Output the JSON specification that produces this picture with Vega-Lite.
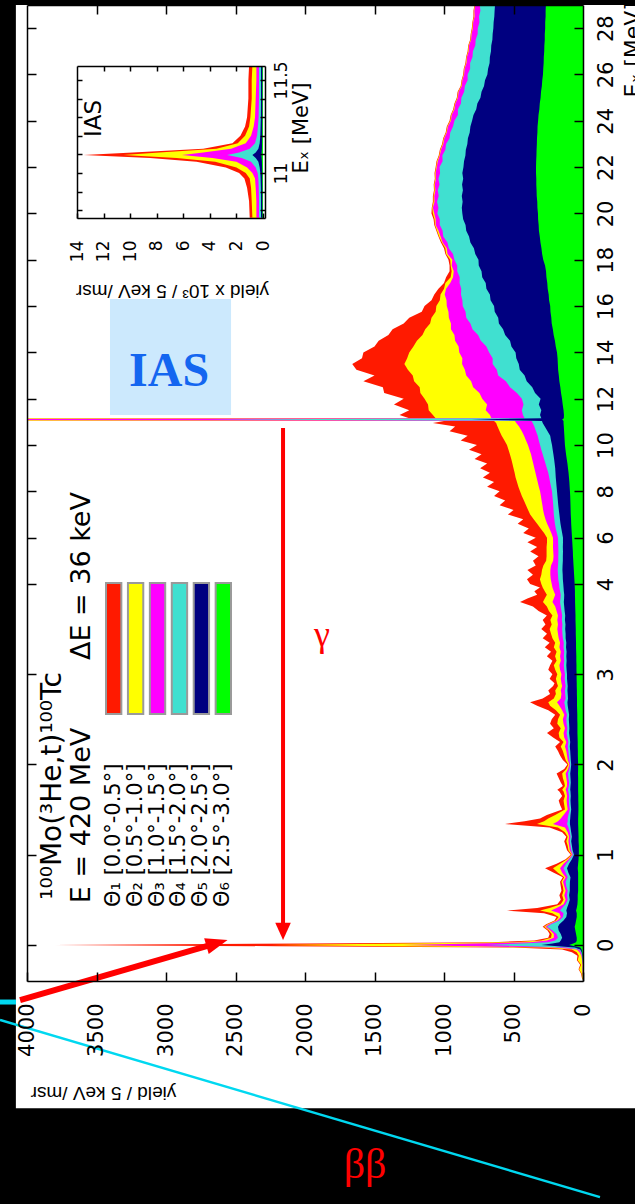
{
"$schema":"https://vega.github.io/schema/vega-lite/v6.json",
"width":556,"height":976,
"autosize":{"type":"none"},
"padding":{"left":27,"top":5,"right":52,"bottom":223},
"background":"#000000",
"config":{"view":{"stroke":null},"font":"Liberation Sans","axis":{"zindex":2,"grid":false,"domainColor":"#000000","tickColor":"#000000","labelColor":"#000000","titleColor":"#000000","domainWidth":1.5,"tickWidth":1.5,"labelFlush":false,"labelOverlap":false,"labelBound":false,"titleFontWeight":"normal"}},
"datasets":{
"main":[
{"e":-0.38,"g":0,"b":0,"c":0,"m":0,"y":4,"r":6},
{"e":-0.32,"g":0,"b":0,"c":0,"m":2,"y":10,"r":14},
{"e":-0.27,"g":0,"b":0,"c":2,"m":5,"y":28,"r":32},
{"e":-0.22,"g":0,"b":0,"c":0,"m":3,"y":14,"r":20},
{"e":-0.17,"g":0,"b":2,"c":3,"m":6,"y":38,"r":44},
{"e":-0.12,"g":2,"b":5,"c":8,"m":12,"y":30,"r":40},
{"e":-0.08,"g":5,"b":10,"c":15,"m":25,"y":45,"r":80},
{"e":-0.05,"g":10,"b":20,"c":30,"m":45,"y":80,"r":150},
{"e":-0.03,"g":20,"b":60,"c":120,"m":200,"y":300,"r":500},
{"e":-0.015,"g":60,"b":180,"c":420,"m":800,"y":1400,"r":2200},
{"e":0,"g":100,"b":300,"c":700,"m":1300,"y":2250,"r":3800},
{"e":0.015,"g":70,"b":220,"c":450,"m":800,"y":1300,"r":2000},
{"e":0.03,"g":50,"b":170,"c":250,"m":380,"y":500,"r":650},
{"e":0.05,"g":45,"b":160,"c":200,"m":260,"y":300,"r":350},
{"e":0.08,"g":45,"b":150,"c":180,"m":210,"y":230,"r":250},
{"e":0.12,"g":50,"b":160,"c":190,"m":210,"y":225,"r":240},
{"e":0.16,"g":55,"b":175,"c":220,"m":235,"y":245,"r":255},
{"e":0.2,"g":60,"b":180,"c":259,"m":270,"y":280,"r":290},
{"e":0.23,"g":55,"b":170,"c":230,"m":245,"y":255,"r":265},
{"e":0.27,"g":50,"b":140,"c":170,"m":185,"y":195,"r":205},
{"e":0.31,"g":45,"b":120,"c":145,"m":160,"y":175,"r":190},
{"e":0.35,"g":45,"b":115,"c":140,"m":170,"y":220,"r":280},
{"e":0.38,"g":50,"b":120,"c":165,"m":230,"y":309,"r":547},
{"e":0.41,"g":45,"b":115,"c":150,"m":190,"y":240,"r":330},
{"e":0.45,"g":40,"b":105,"c":125,"m":140,"y":160,"r":185},
{"e":0.5,"g":38,"b":95,"c":110,"m":125,"y":140,"r":160},
{"e":0.55,"g":38,"b":100,"c":115,"m":135,"y":150,"r":170},
{"e":0.6,"g":35,"b":95,"c":110,"m":125,"y":140,"r":155},
{"e":0.65,"g":35,"b":95,"c":120,"m":135,"y":145,"r":160},
{"e":0.7,"g":35,"b":94,"c":125,"m":144,"y":155,"r":165},
{"e":0.75,"g":35,"b":90,"c":110,"m":125,"y":135,"r":145},
{"e":0.8,"g":35,"b":105,"c":125,"m":150,"y":180,"r":210},
{"e":0.85,"g":38,"b":115,"c":140,"m":165,"y":216,"r":273},
{"e":0.9,"g":35,"b":100,"c":120,"m":140,"y":165,"r":190},
{"e":0.95,"g":32,"b":80,"c":95,"m":105,"y":115,"r":125},
{"e":1.0,"g":30,"b":65,"c":72,"m":78,"y":82,"r":88},
{"e":1.05,"g":30,"b":75,"c":85,"m":95,"y":105,"r":115},
{"e":1.1,"g":30,"b":80,"c":90,"m":100,"y":110,"r":125},
{"e":1.15,"g":32,"b":85,"c":95,"m":105,"y":120,"r":135},
{"e":1.2,"g":32,"b":80,"c":90,"m":100,"y":110,"r":120},
{"e":1.25,"g":33,"b":85,"c":95,"m":110,"y":130,"r":150},
{"e":1.3,"g":34,"b":90,"c":105,"m":130,"y":180,"r":240},
{"e":1.34,"g":35,"b":94,"c":115,"m":216,"y":331,"r":561},
{"e":1.37,"g":35,"b":94,"c":110,"m":180,"y":280,"r":420},
{"e":1.4,"g":35,"b":92,"c":110,"m":160,"y":250,"r":309},
{"e":1.44,"g":34,"b":90,"c":105,"m":140,"y":200,"r":260},
{"e":1.5,"g":33,"b":85,"c":95,"m":110,"y":130,"r":150},
{"e":1.55,"g":33,"b":88,"c":100,"m":115,"y":135,"r":165},
{"e":1.6,"g":34,"b":90,"c":102,"m":118,"y":140,"r":175},
{"e":1.65,"g":34,"b":88,"c":100,"m":115,"y":130,"r":150},
{"e":1.7,"g":35,"b":90,"c":105,"m":120,"y":140,"r":170},
{"e":1.72,"g":35,"b":92,"c":108,"m":125,"y":150,"r":185},
{"e":1.76,"g":35,"b":90,"c":102,"m":115,"y":130,"r":145},
{"e":1.8,"g":35,"b":88,"c":100,"m":115,"y":135,"r":160},
{"e":1.85,"g":35,"b":90,"c":105,"m":120,"y":145,"r":175},
{"e":1.9,"g":36,"b":92,"c":108,"m":125,"y":150,"r":190},
{"e":1.95,"g":35,"b":88,"c":98,"m":108,"y":120,"r":135},
{"e":2.0,"g":35,"b":85,"c":92,"m":98,"y":105,"r":112},
{"e":2.05,"g":36,"b":88,"c":98,"m":110,"y":125,"r":145},
{"e":2.1,"g":37,"b":90,"c":102,"m":115,"y":135,"r":165},
{"e":2.15,"g":37,"b":92,"c":105,"m":120,"y":145,"r":180},
{"e":2.2,"g":38,"b":95,"c":110,"m":130,"y":160,"r":200},
{"e":2.25,"g":38,"b":92,"c":105,"m":120,"y":140,"r":165},
{"e":2.3,"g":39,"b":96,"c":112,"m":135,"y":170,"r":215},
{"e":2.35,"g":40,"b":100,"c":118,"m":140,"y":175,"r":259},
{"e":2.4,"g":40,"b":98,"c":112,"m":130,"y":160,"r":210},
{"e":2.45,"g":40,"b":100,"c":118,"m":140,"y":185,"r":237},
{"e":2.5,"g":41,"b":102,"c":120,"m":145,"y":180,"r":225},
{"e":2.55,"g":41,"b":100,"c":115,"m":135,"y":165,"r":200},
{"e":2.6,"g":42,"b":105,"c":125,"m":150,"y":195,"r":250},
{"e":2.65,"g":43,"b":110,"c":130,"m":170,"y":237,"r":330},
{"e":2.69,"g":43,"b":112,"c":135,"m":187,"y":250,"r":381},
{"e":2.73,"g":43,"b":108,"c":125,"m":160,"y":210,"r":290},
{"e":2.78,"g":44,"b":110,"c":128,"m":155,"y":195,"r":237},
{"e":2.82,"g":44,"b":112,"c":130,"m":160,"y":200,"r":250},
{"e":2.87,"g":45,"b":110,"c":125,"m":150,"y":180,"r":215},
{"e":2.9,"g":45,"b":112,"c":128,"m":155,"y":187,"r":205},
{"e":2.95,"g":46,"b":115,"c":132,"m":160,"y":195,"r":240},
{"e":3.0,"g":46,"b":115,"c":130,"m":155,"y":185,"r":220},
{"e":3.05,"g":47,"b":118,"c":135,"m":165,"y":200,"r":250},
{"e":3.1,"g":47,"b":120,"c":138,"m":170,"y":210,"r":237},
{"e":3.15,"g":48,"b":118,"c":135,"m":160,"y":190,"r":220},
{"e":3.2,"g":48,"b":120,"c":138,"m":165,"y":201,"r":260},
{"e":3.25,"g":49,"b":118,"c":135,"m":160,"y":190,"r":230},
{"e":3.3,"g":50,"b":122,"c":140,"m":170,"y":210,"r":275},
{"e":3.35,"g":50,"b":120,"c":138,"m":165,"y":200,"r":240},
{"e":3.4,"g":51,"b":125,"c":145,"m":175,"y":220,"r":290},
{"e":3.45,"g":52,"b":125,"c":148,"m":180,"y":230,"r":259},
{"e":3.5,"g":52,"b":128,"c":150,"m":185,"y":240,"r":300},
{"e":3.55,"g":53,"b":126,"c":148,"m":180,"y":225,"r":270},
{"e":3.6,"g":54,"b":130,"c":152,"m":185,"y":235,"r":290},
{"e":3.65,"g":54,"b":128,"c":150,"m":180,"y":220,"r":260},
{"e":3.7,"g":55,"b":132,"c":155,"m":190,"y":245,"r":320},
{"e":3.75,"g":56,"b":135,"c":160,"m":200,"y":260,"r":360},
{"e":3.8,"g":57,"b":138,"c":165,"m":220,"y":288,"r":453},
{"e":3.84,"g":57,"b":136,"c":162,"m":210,"y":275,"r":400},
{"e":3.88,"g":58,"b":135,"c":160,"m":200,"y":260,"r":330},
{"e":3.92,"g":58,"b":138,"c":165,"m":210,"y":275,"r":350},
{"e":3.96,"g":59,"b":140,"c":170,"m":220,"y":290,"r":310},
{"e":4.0,"g":60,"b":142,"c":172,"m":225,"y":300,"r":380},
{"e":4.2,"g":62,"b":145,"c":178,"m":232,"y":310,"r":403},
{"e":4.4,"g":64,"b":146,"c":180,"m":235,"y":300,"r":360},
{"e":4.6,"g":66,"b":148,"c":182,"m":235,"y":295,"r":400},
{"e":4.8,"g":68,"b":147,"c":180,"m":230,"y":285,"r":340},
{"e":5.0,"g":70,"b":145,"c":178,"m":215,"y":265,"r":360},
{"e":5.2,"g":72,"b":145,"c":178,"m":212,"y":262,"r":320},
{"e":5.4,"g":73,"b":144,"c":177,"m":214,"y":262,"r":380},
{"e":5.6,"g":75,"b":145,"c":178,"m":216,"y":262,"r":330},
{"e":5.8,"g":77,"b":144,"c":179,"m":215,"y":259,"r":400},
{"e":6.0,"g":79,"b":144,"c":180,"m":216,"y":259,"r":340},
{"e":6.2,"g":81,"b":150,"c":188,"m":228,"y":280,"r":430},
{"e":6.4,"g":83,"b":156,"c":196,"m":242,"y":305,"r":390},
{"e":6.6,"g":85,"b":162,"c":202,"m":258,"y":330,"r":470},
{"e":6.8,"g":86,"b":166,"c":206,"m":270,"y":355,"r":430},
{"e":7.0,"g":88,"b":170,"c":210,"m":280,"y":380,"r":540},
{"e":7.2,"g":89,"b":174,"c":212,"m":287,"y":395,"r":500},
{"e":7.4,"g":90,"b":178,"c":214,"m":292,"y":410,"r":600},
{"e":7.6,"g":91,"b":181,"c":217,"m":298,"y":425,"r":560},
{"e":7.8,"g":92,"b":184,"c":220,"m":303,"y":440,"r":640},
{"e":8.0,"g":94,"b":187,"c":223,"m":309,"y":453,"r":600},
{"e":8.2,"g":96,"b":190,"c":230,"m":318,"y":465,"r":690},
{"e":8.4,"g":98,"b":193,"c":237,"m":326,"y":475,"r":640},
{"e":8.6,"g":101,"b":196,"c":243,"m":334,"y":485,"r":720},
{"e":8.8,"g":104,"b":198,"c":250,"m":342,"y":492,"r":670},
{"e":9.0,"g":108,"b":200,"c":260,"m":350,"y":500,"r":740},
{"e":9.2,"g":112,"b":204,"c":270,"m":358,"y":508,"r":690},
{"e":9.4,"g":117,"b":208,"c":280,"m":366,"y":516,"r":780},
{"e":9.6,"g":122,"b":213,"c":290,"m":374,"y":526,"r":730},
{"e":9.8,"g":126,"b":218,"c":300,"m":385,"y":536,"r":820},
{"e":10.0,"g":130,"b":223,"c":309,"m":396,"y":547,"r":763},
{"e":10.2,"g":132,"b":230,"c":318,"m":410,"y":565,"r":880},
{"e":10.4,"g":134,"b":236,"c":326,"m":424,"y":585,"r":830},
{"e":10.6,"g":136,"b":255,"c":338,"m":440,"y":600,"r":960},
{"e":10.8,"g":138,"b":275,"c":350,"m":460,"y":615,"r":920},
{"e":10.95,"g":140,"b":290,"c":362,"m":480,"y":625,"r":1080},
{"e":11.04,"g":140,"b":295,"c":370,"m":490,"y":640,"r":1000},
{"e":11.1,"g":150,"b":800,"c":2700,"m":6100,"y":10500,"r":13500},
{"e":11.16,"g":138,"b":300,"c":420,"m":660,"y":1060,"r":1250},
{"e":11.3,"g":137,"b":309,"c":432,"m":669,"y":1080,"r":1320},
{"e":11.5,"g":140,"b":300,"c":440,"m":700,"y":1110,"r":1250},
{"e":11.75,"g":146,"b":318,"c":428,"m":690,"y":1115,"r":1360},
{"e":12.0,"g":151,"b":305,"c":440,"m":725,"y":1140,"r":1290},
{"e":12.25,"g":158,"b":345,"c":475,"m":745,"y":1170,"r":1430},
{"e":12.5,"g":163,"b":365,"c":525,"m":790,"y":1175,"r":1440},
{"e":12.75,"g":170,"b":405,"c":555,"m":805,"y":1215,"r":1580},
{"e":13.0,"g":174,"b":420,"c":610,"m":840,"y":1225,"r":1500},
{"e":13.25,"g":179,"b":455,"c":620,"m":850,"y":1260,"r":1630},
{"e":13.5,"g":181,"b":462,"c":650,"m":870,"y":1285,"r":1660},
{"e":13.75,"g":183,"b":480,"c":650,"m":868,"y":1265,"r":1590},
{"e":14.0,"g":187,"b":485,"c":675,"m":890,"y":1250,"r":1580},
{"e":14.25,"g":196,"b":515,"c":695,"m":895,"y":1220,"r":1500},
{"e":14.5,"g":202,"b":525,"c":735,"m":920,"y":1195,"r":1470},
{"e":14.75,"g":211,"b":560,"c":755,"m":925,"y":1155,"r":1400},
{"e":15.0,"g":217,"b":575,"c":795,"m":950,"y":1135,"r":1370},
{"e":15.25,"g":225,"b":605,"c":810,"m":950,"y":1100,"r":1290},
{"e":15.5,"g":228,"b":610,"c":840,"m":965,"y":1090,"r":1250},
{"e":15.75,"g":234,"b":635,"c":845,"m":968,"y":1060,"r":1160},
{"e":16.0,"g":236,"b":640,"c":865,"m":980,"y":1055,"r":1140},
{"e":16.25,"g":244,"b":665,"c":868,"m":982,"y":1030,"r":1090},
{"e":16.5,"g":247,"b":670,"c":878,"m":995,"y":1025,"r":1070},
{"e":16.75,"g":254,"b":695,"c":876,"m":985,"y":1000,"r":1040},
{"e":17.0,"g":257,"b":700,"c":888,"m":955,"y":990,"r":1000},
{"e":17.25,"g":263,"b":725,"c":887,"m":935,"y":952,"r":985},
{"e":17.5,"g":266,"b":730,"c":905,"m":930,"y":945,"r":960},
{"e":17.75,"g":273,"b":750,"c":905,"m":945,"y":952,"r":960},
{"e":18.0,"g":286,"b":752,"c":925,"m":940,"y":955,"r":968},
{"e":18.25,"g":294,"b":775,"c":935,"m":975,"y":985,"r":990},
{"e":18.5,"g":299,"b":785,"c":965,"m":980,"y":990,"r":1000},
{"e":18.75,"g":306,"b":810,"c":975,"m":1010,"y":1015,"r":1022},
{"e":19.0,"g":311,"b":820,"c":1005,"m":1025,"y":1035,"r":1040},
{"e":19.25,"g":317,"b":840,"c":1010,"m":1040,"y":1050,"r":1055},
{"e":19.5,"g":319,"b":845,"c":1030,"m":1060,"y":1065,"r":1070},
{"e":19.75,"g":323,"b":862,"c":1030,"m":1060,"y":1068,"r":1075},
{"e":20.0,"g":324,"b":868,"c":1048,"m":1070,"y":1080,"r":1090},
{"e":20.25,"g":328,"b":872,"c":1040,"m":1080,"y":1085,"r":1088},
{"e":20.5,"g":329,"b":866,"c":1050,"m":1068,"y":1075,"r":1080},
{"e":20.75,"g":333,"b":872,"c":1038,"m":1070,"y":1075,"r":1080},
{"e":21.0,"g":334,"b":864,"c":1045,"m":1062,"y":1068,"r":1072},
{"e":21.25,"g":336,"b":870,"c":1032,"m":1066,"y":1070,"r":1074},
{"e":21.5,"g":336,"b":862,"c":1040,"m":1058,"y":1062,"r":1066},
{"e":21.75,"g":338,"b":868,"c":1028,"m":1060,"y":1064,"r":1068},
{"e":22.0,"g":338,"b":860,"c":1032,"m":1052,"y":1056,"r":1060},
{"e":22.25,"g":337,"b":856,"c":1010,"m":1045,"y":1050,"r":1054},
{"e":22.5,"g":335,"b":846,"c":1012,"m":1030,"y":1034,"r":1038},
{"e":22.75,"g":334,"b":843,"c":990,"m":1022,"y":1026,"r":1030},
{"e":23.0,"g":332,"b":832,"c":985,"m":1005,"y":1010,"r":1014},
{"e":23.25,"g":331,"b":828,"c":960,"m":998,"y":1002,"r":1006},
{"e":23.5,"g":328,"b":815,"c":955,"m":980,"y":984,"r":988},
{"e":23.75,"g":327,"b":810,"c":935,"m":972,"y":976,"r":980},
{"e":24.0,"g":323,"b":798,"c":925,"m":950,"y":955,"r":960},
{"e":24.25,"g":320,"b":788,"c":900,"m":945,"y":948,"r":952},
{"e":24.5,"g":314,"b":768,"c":900,"m":925,"y":930,"r":934},
{"e":24.75,"g":311,"b":760,"c":878,"m":918,"y":921,"r":925},
{"e":25.0,"g":305,"b":738,"c":875,"m":900,"y":904,"r":908},
{"e":25.25,"g":302,"b":730,"c":855,"m":895,"y":898,"r":902},
{"e":25.5,"g":296,"b":712,"c":850,"m":872,"y":876,"r":880},
{"e":25.75,"g":293,"b":705,"c":830,"m":868,"y":871,"r":874},
{"e":26.0,"g":288,"b":688,"c":830,"m":855,"y":858,"r":862},
{"e":26.25,"g":286,"b":683,"c":812,"m":852,"y":855,"r":858},
{"e":26.5,"g":283,"b":672,"c":812,"m":838,"y":842,"r":846},
{"e":26.75,"g":282,"b":670,"c":795,"m":835,"y":838,"r":841},
{"e":27.0,"g":279,"b":662,"c":792,"m":822,"y":826,"r":830},
{"e":27.25,"g":278,"b":660,"c":775,"m":820,"y":823,"r":826},
{"e":27.5,"g":275,"b":652,"c":772,"m":805,"y":808,"r":812},
{"e":27.75,"g":275,"b":650,"c":758,"m":802,"y":805,"r":808},
{"e":28.0,"g":272,"b":645,"c":757,"m":792,"y":796,"r":800},
{"e":28.25,"g":272,"b":643,"c":745,"m":790,"y":793,"r":796},
{"e":28.5,"g":269,"b":638,"c":748,"m":780,"y":784,"r":788},
{"e":28.75,"g":269,"b":636,"c":738,"m":782,"y":785,"r":788},
{"e":29.0,"g":267,"b":633,"c":742,"m":775,"y":778,"r":781}
],
"inset":[
{"e":10.76,"g":0.05,"b":0.15,"c":0.3,"m":0.5,"y":0.8,"r":1.0},
{"e":10.85,"g":0.05,"b":0.15,"c":0.3,"m":0.5,"y":0.85,"r":1.05},
{"e":10.92,"g":0.05,"b":0.16,"c":0.32,"m":0.55,"y":0.9,"r":1.2},
{"e":10.97,"g":0.06,"b":0.18,"c":0.35,"m":0.6,"y":1.0,"r":1.4},
{"e":11.0,"g":0.06,"b":0.2,"c":0.4,"m":0.8,"y":1.3,"r":1.8},
{"e":11.03,"g":0.07,"b":0.25,"c":0.55,"m":1.2,"y":2.0,"r":2.8},
{"e":11.06,"g":0.08,"b":0.35,"c":0.9,"m":2.0,"y":3.6,"r":5.0},
{"e":11.08,"g":0.1,"b":0.55,"c":1.6,"m":3.8,"y":6.5,"r":8.5},
{"e":11.097,"g":0.12,"b":0.8,"c":2.7,"m":6.1,"y":10.5,"r":13.5},
{"e":11.11,"g":0.1,"b":0.55,"c":1.8,"m":4.5,"y":7.8,"r":9.8},
{"e":11.13,"g":0.08,"b":0.35,"c":1.0,"m":2.4,"y":3.5,"r":4.5},
{"e":11.16,"g":0.07,"b":0.25,"c":0.6,"m":1.3,"y":1.9,"r":2.3},
{"e":11.2,"g":0.06,"b":0.2,"c":0.45,"m":0.9,"y":1.35,"r":1.7},
{"e":11.25,"g":0.06,"b":0.18,"c":0.38,"m":0.7,"y":1.05,"r":1.35},
{"e":11.3,"g":0.05,"b":0.16,"c":0.33,"m":0.6,"y":0.95,"r":1.2},
{"e":11.4,"g":0.05,"b":0.15,"c":0.3,"m":0.55,"y":0.85,"r":1.1},
{"e":11.5,"g":0.05,"b":0.15,"c":0.3,"m":0.5,"y":0.85,"r":1.1},
{"e":11.575,"g":0.05,"b":0.15,"c":0.3,"m":0.5,"y":0.8,"r":1.05}
]
},
"layer":[
{
"layer":[
{"data":{"values":[{}]},"mark":{"type":"rect","color":"#ffffff","clip":false,"zindex":0},
 "encoding":{"x":{"datum":4080,"type":"quantitative","scale":{"domain":[0,4000],"range":[556,0],"nice":false,"zero":false},"axis":null},"x2":{"datum":-380},
 "y":{"datum":29,"type":"quantitative","scale":{"domain":[-0.4,4,29],"range":[976,579,0],"nice":false,"zero":false},"axis":null},"y2":{"datum":-1.81}}},
{"data":{"name":"main"},"mark":{"type":"area","orient":"horizontal","color":"#ff1a00","clip":true},
 "encoding":{"y":{"field":"e","type":"quantitative","scale":{"domain":[-0.4,4,29],"range":[976,579,0],"nice":false,"zero":false},
   "axis":{"zindex":2,"orient":"right","values":[0,1,2,3,4,6,8,10,12,14,16,18,20,22,24,26,28],"format":"d","labelAngle":270,"labelAlign":"center","labelBaseline":"top","labelFont":"DejaVu Sans","labelFontSize":21,"labelPadding":21,"tickSize":-9,"title":"Eₓ [MeV]","titleFont":"DejaVu Sans","titleFontSize":22,"titleAngle":270,"titleAlign":"left","titleBaseline":"top","titleX":39,"titleY":92}},
  "x":{"field":"r","type":"quantitative","scale":{"domain":[0,4000],"range":[556,0],"nice":false,"zero":false},
   "axis":{"zindex":2,"orient":"bottom","values":[0,500,1000,1500,2000,2500,3000,3500,4000],"format":"d","labelAngle":270,"labelAlign":"right","labelBaseline":"middle","labelFont":"DejaVu Sans","labelFontSize":21,"labelPadding":31,"tickSize":-9,"title":"yield / 5 keV /msr","titleFont":"Liberation Sans","titleFontSize":19,"titleAngle":180,"titleAlign":"center","titleBaseline":"middle","titleX":76,"titleY":111}},
  "x2":{"datum":0}}},
{"data":{"name":"main"},"mark":{"type":"area","orient":"horizontal","color":"#ffff00","clip":true},
 "encoding":{"y":{"field":"e","type":"quantitative","scale":{"domain":[-0.4,4,29],"range":[976,579,0],"nice":false,"zero":false},
   "axis":{"zindex":2,"orient":"left","values":[0,1,2,3,4,6,8,10,12,14,16,18,20,22,24,26,28],"labels":false,"tickSize":-9,"title":null}},
  "x":{"field":"y","type":"quantitative","scale":{"domain":[0,4000],"range":[556,0],"nice":false,"zero":false},
   "axis":{"zindex":2,"orient":"top","values":[500,1000,1500,2000,2500,3000,3500],"labels":false,"tickSize":-9,"title":null}},
  "x2":{"datum":0}}},
{"data":{"name":"main"},"mark":{"type":"area","orient":"horizontal","color":"#ff00ff","clip":true},
 "encoding":{"y":{"field":"e","type":"quantitative","scale":{"domain":[-0.4,4,29],"range":[976,579,0],"nice":false,"zero":false},"axis":null},
  "x":{"field":"m","type":"quantitative","scale":{"domain":[0,4000],"range":[556,0],"nice":false,"zero":false},"axis":null},"x2":{"datum":0}}},
{"data":{"name":"main"},"mark":{"type":"area","orient":"horizontal","color":"#40e0d0","clip":true},
 "encoding":{"y":{"field":"e","type":"quantitative","scale":{"domain":[-0.4,4,29],"range":[976,579,0],"nice":false,"zero":false},"axis":null},
  "x":{"field":"c","type":"quantitative","scale":{"domain":[0,4000],"range":[556,0],"nice":false,"zero":false},"axis":null},"x2":{"datum":0}}},
{"data":{"name":"main"},"mark":{"type":"area","orient":"horizontal","color":"#000080","clip":true},
 "encoding":{"y":{"field":"e","type":"quantitative","scale":{"domain":[-0.4,4,29],"range":[976,579,0],"nice":false,"zero":false},"axis":null},
  "x":{"field":"b","type":"quantitative","scale":{"domain":[0,4000],"range":[556,0],"nice":false,"zero":false},"axis":null},"x2":{"datum":0}}},
{"data":{"name":"main"},"mark":{"type":"area","orient":"horizontal","color":"#00ff00","clip":true},
 "encoding":{"y":{"field":"e","type":"quantitative","scale":{"domain":[-0.4,4,29],"range":[976,579,0],"nice":false,"zero":false},"axis":null},
  "x":{"field":"g","type":"quantitative","scale":{"domain":[0,4000],"range":[556,0],"nice":false,"zero":false},"axis":null},"x2":{"datum":0}}},
{"data":{"values":[{}]},"mark":{"type":"rect","color":"#cce9fd","clip":false},
 "encoding":{"x":{"datum":3403,"type":"quantitative","scale":{"domain":[0,4000],"range":[556,0],"nice":false,"zero":false},"axis":null},"x2":{"datum":2532},
 "y":{"datum":16.31,"type":"quantitative","scale":{"domain":[-0.4,4,29],"range":[976,579,0],"nice":false,"zero":false},"axis":null},"y2":{"datum":11.3}}},
{"data":{"values":[{}]},"mark":{"type":"text","text":"IAS","font":"Liberation Serif","fontWeight":"bold","fontSize":48,"color":"#1466f0","align":"center","baseline":"middle"},
 "encoding":{"x":{"datum":2978,"type":"quantitative","scale":{"domain":[0,4000],"range":[556,0],"nice":false,"zero":false},"axis":null},
 "y":{"datum":13.15,"type":"quantitative","scale":{"domain":[-0.4,4,29],"range":[976,579,0],"nice":false,"zero":false},"axis":null}}},
{"data":{"values":[{}]},"mark":{"type":"text","text":"γ","font":"Liberation Serif","fontSize":36,"color":"#ff0000","align":"center","baseline":"middle"},
 "encoding":{"x":{"datum":1878,"type":"quantitative","scale":{"domain":[0,4000],"range":[556,0],"nice":false,"zero":false},"axis":null},
 "y":{"datum":3.43,"type":"quantitative","scale":{"domain":[-0.4,4,29],"range":[976,579,0],"nice":false,"zero":false},"axis":null}}},
{"data":{"values":[{}]},"mark":{"type":"text","text":"ββ","font":"Liberation Serif","fontSize":42,"color":"#ff0000","align":"center","baseline":"middle"},
 "encoding":{"x":{"datum":1568,"type":"quantitative","scale":{"domain":[0,4000],"range":[556,0],"nice":false,"zero":false},"axis":null},
 "y":{"datum":-2.44,"type":"quantitative","scale":{"domain":[-0.4,4,29],"range":[976,579,0],"nice":false,"zero":false},"axis":null}}},
{"data":{"values":[{}]},"mark":{"type":"text","text":"¹⁰⁰Mo(³He,t)¹⁰⁰Tc","font":"DejaVu Sans","fontSize":28,"color":"#000000","align":"left","baseline":"middle","angle":270},
 "encoding":{"x":{"datum":3815,"type":"quantitative","scale":{"domain":[0,4000],"range":[556,0],"nice":false,"zero":false},"axis":null},
 "y":{"datum":0.5,"type":"quantitative","scale":{"domain":[-0.4,4,29],"range":[976,579,0],"nice":false,"zero":false},"axis":null}}},
{"data":{"values":[{}]},"mark":{"type":"text","text":"E = 420 MeV","font":"DejaVu Sans","fontSize":27,"color":"#000000","align":"left","baseline":"middle","angle":270},
 "encoding":{"x":{"datum":3605,"type":"quantitative","scale":{"domain":[0,4000],"range":[556,0],"nice":false,"zero":false},"axis":null},
 "y":{"datum":0.463,"type":"quantitative","scale":{"domain":[-0.4,4,29],"range":[976,579,0],"nice":false,"zero":false},"axis":null}}},
{"data":{"values":[{}]},"mark":{"type":"text","text":"ΔE = 36 keV","font":"DejaVu Sans","fontSize":27,"color":"#000000","align":"left","baseline":"middle","angle":270},
 "encoding":{"x":{"datum":3605,"type":"quantitative","scale":{"domain":[0,4000],"range":[556,0],"nice":false,"zero":false},"axis":null},
 "y":{"datum":3.157,"type":"quantitative","scale":{"domain":[-0.4,4,29],"range":[976,579,0],"nice":false,"zero":false},"axis":null}}},
{"data":{"values":[{}]},"mark":{"type":"rule","color":"#ff0000","strokeWidth":4,"clip":false},
 "encoding":{"x":{"datum":2158,"type":"quantitative","scale":{"domain":[0,4000],"range":[556,0],"nice":false,"zero":false},"axis":null},
 "y":{"datum":10.74,"type":"quantitative","scale":{"domain":[-0.4,4,29],"range":[976,579,0],"nice":false,"zero":false},"axis":null},"y2":{"datum":0.15}}},
{"data":{"values":[{}]},"mark":{"type":"point","shape":"M-0.9,-1L0.9,-1L0,1Z","size":300,"filled":true,"opacity":1,"color":"#ff0000","clip":false},
 "encoding":{"x":{"datum":2158,"type":"quantitative","scale":{"domain":[0,4000],"range":[556,0],"nice":false,"zero":false},"axis":null},
 "y":{"datum":0.15,"type":"quantitative","scale":{"domain":[-0.4,4,29],"range":[976,579,0],"nice":false,"zero":false},"axis":null}}},
{"data":{"values":[{}]},"mark":{"type":"rule","color":"#00d8f0","strokeWidth":2.5,"clip":false},
 "encoding":{"x":{"datum":4194,"type":"quantitative","scale":{"domain":[0,4000],"range":[556,0],"nice":false,"zero":false},"axis":null},"x2":{"datum":-122},
 "y":{"datum":-0.832,"type":"quantitative","scale":{"domain":[-0.4,4,29],"range":[976,579,0],"nice":false,"zero":false},"axis":null},"y2":{"datum":-2.795}}},
{"data":{"values":[{}]},"mark":{"type":"rule","color":"#00d8f0","strokeWidth":5,"clip":false},
 "encoding":{"x":{"datum":4200,"type":"quantitative","scale":{"domain":[0,4000],"range":[556,0],"nice":false,"zero":false},"axis":null},"x2":{"datum":4079},
 "y":{"datum":-0.633,"type":"quantitative","scale":{"domain":[-0.4,4,29],"range":[976,579,0],"nice":false,"zero":false},"axis":null},"y2":{"datum":-0.633}}},
{"data":{"values":[{}]},"mark":{"type":"rule","color":"#ff0000","strokeWidth":6,"clip":false},
 "encoding":{"x":{"datum":4050,"type":"quantitative","scale":{"domain":[0,4000],"range":[556,0],"nice":false,"zero":false},"axis":null},"x2":{"datum":2633},
 "y":{"datum":-0.611,"type":"quantitative","scale":{"domain":[-0.4,4,29],"range":[976,579,0],"nice":false,"zero":false},"axis":null},"y2":{"datum":0.02}}},
{"data":{"values":[{}]},"mark":{"type":"point","shape":"M-1,-0.75L1,0L-1,0.75Z","size":484,"angle":-16,"filled":true,"opacity":1,"color":"#ff0000","clip":false},
 "encoding":{"x":{"datum":2633,"type":"quantitative","scale":{"domain":[0,4000],"range":[556,0],"nice":false,"zero":false},"axis":null},
 "y":{"datum":0.02,"type":"quantitative","scale":{"domain":[-0.4,4,29],"range":[976,579,0],"nice":false,"zero":false},"axis":null}}}
],
"resolve":{"axis":{"x":"independent","y":"independent"}}
},
{
"layer":[
{"data":{"name":"inset"},"mark":{"type":"area","orient":"horizontal","color":"#ff1a00","clip":true},
 "encoding":{"y":{"field":"e","type":"quantitative","scale":{"domain":[10.758,11.575],"range":[213,61],"nice":false,"zero":false},
   "axis":{"zindex":2,"orient":"right","offset":-318,"values":[10.8,10.9,11,11.1,11.2,11.3,11.4,11.5],"labelExpr":"datum.value == 11 ? '11' : (datum.value == 11.5 ? '11.5' : '')","labelAngle":270,"labelAlign":"center","labelBaseline":"top","labelFont":"DejaVu Sans","labelFontSize":17,"labelPadding":13,"tickSize":-5,"title":"Eₓ [MeV]","titleFont":"DejaVu Sans","titleFontSize":21,"titleAngle":270,"titleAlign":"left","titleBaseline":"top","titleX":25,"titleY":168}},
  "x":{"field":"r","type":"quantitative","scale":{"domain":[-0.15,14],"range":[238,50],"nice":false,"zero":false},
   "axis":{"zindex":2,"orient":"bottom","offset":-763,"values":[0,2,4,6,8,10,12,14],"format":"d","labelAngle":270,"labelAlign":"right","labelBaseline":"middle","labelFont":"DejaVu Sans","labelFontSize":17,"labelPadding":27,"tickSize":-5,"title":"yield x 10³ / 5 keV /msr","titleFont":"Liberation Sans","titleFontSize":19,"titleAngle":180,"titleAlign":"center","titleBaseline":"middle","titleX":145,"titleY":72}},
  "x2":{"datum":0}}},
{"data":{"name":"inset"},"mark":{"type":"area","orient":"horizontal","color":"#ffff00","clip":true},
 "encoding":{"y":{"field":"e","type":"quantitative","scale":{"domain":[10.758,11.575],"range":[213,61],"nice":false,"zero":false},
   "axis":{"zindex":2,"orient":"left","offset":-50,"values":[10.8,10.9,11,11.1,11.2,11.3,11.4,11.5],"labels":false,"tickSize":-5,"title":null}},
  "x":{"field":"y","type":"quantitative","scale":{"domain":[-0.15,14],"range":[238,50],"nice":false,"zero":false},
   "axis":{"zindex":2,"orient":"top","offset":-61,"values":[2,4,6,8,10,12],"labels":false,"tickSize":-5,"title":null}},
  "x2":{"datum":0}}},
{"data":{"name":"inset"},"mark":{"type":"area","orient":"horizontal","color":"#ff00ff","clip":true},
 "encoding":{"y":{"field":"e","type":"quantitative","scale":{"domain":[10.758,11.575],"range":[213,61],"nice":false,"zero":false},"axis":null},
  "x":{"field":"m","type":"quantitative","scale":{"domain":[-0.15,14],"range":[238,50],"nice":false,"zero":false},"axis":null},"x2":{"datum":0}}},
{"data":{"name":"inset"},"mark":{"type":"area","orient":"horizontal","color":"#40e0d0","clip":true},
 "encoding":{"y":{"field":"e","type":"quantitative","scale":{"domain":[10.758,11.575],"range":[213,61],"nice":false,"zero":false},"axis":null},
  "x":{"field":"c","type":"quantitative","scale":{"domain":[-0.15,14],"range":[238,50],"nice":false,"zero":false},"axis":null},"x2":{"datum":0}}},
{"data":{"name":"inset"},"mark":{"type":"area","orient":"horizontal","color":"#000080","clip":true},
 "encoding":{"y":{"field":"e","type":"quantitative","scale":{"domain":[10.758,11.575],"range":[213,61],"nice":false,"zero":false},"axis":null},
  "x":{"field":"b","type":"quantitative","scale":{"domain":[-0.15,14],"range":[238,50],"nice":false,"zero":false},"axis":null},"x2":{"datum":0}}},
{"data":{"name":"inset"},"mark":{"type":"area","orient":"horizontal","color":"#00ff00","clip":true},
 "encoding":{"y":{"field":"e","type":"quantitative","scale":{"domain":[10.758,11.575],"range":[213,61],"nice":false,"zero":false},"axis":null},
  "x":{"field":"g","type":"quantitative","scale":{"domain":[-0.15,14],"range":[238,50],"nice":false,"zero":false},"axis":null},"x2":{"datum":0}}},
{"data":{"values":[{}]},"mark":{"type":"text","text":"IAS","font":"DejaVu Sans","fontSize":23,"color":"#000000","align":"left","baseline":"middle","angle":270},
 "encoding":{"x":{"datum":12.72,"type":"quantitative","scale":{"domain":[-0.15,14],"range":[238,50],"nice":false,"zero":false},"axis":null},
 "y":{"datum":11.193,"type":"quantitative","scale":{"domain":[10.758,11.575],"range":[213,61],"nice":false,"zero":false},"axis":null}}}
],
"resolve":{"axis":{"x":"independent","y":"independent"}}
},
{
"data":{"values":[
{"k":"t1","t":"Θ₁ [0.0°-0.5°]"},
{"k":"t2","t":"Θ₂ [0.5°-1.0°]"},
{"k":"t3","t":"Θ₃ [1.0°-1.5°]"},
{"k":"t4","t":"Θ₄ [1.5°-2.0°]"},
{"k":"t5","t":"Θ₅ [2.0°-2.5°]"},
{"k":"t6","t":"Θ₆ [2.5°-3.0°]"}
]},
"layer":[
{"mark":{"type":"rect","stroke":"#9a9a9a","strokeWidth":2},
 "encoding":{"x":{"field":"k","type":"nominal","scale":{"type":"band","range":[79,204],"paddingInner":0.3,"paddingOuter":0},"axis":null},
  "y":{"datum":0,"type":"quantitative","scale":{"domain":[0,1],"range":[709,578]},"axis":null},"y2":{"datum":1},
  "color":{"field":"k","type":"nominal","scale":{"domain":["t1","t2","t3","t4","t5","t6"],"range":["#ff1a00","#ffff00","#ff00ff","#40e0d0","#000080","#00ff00"]},"legend":null}}},
{"mark":{"type":"text","angle":270,"align":"left","baseline":"middle","font":"DejaVu Sans","fontSize":21,"color":"#000000"},
 "encoding":{"x":{"field":"k","type":"nominal","scale":{"type":"band","range":[79,204],"paddingInner":0.3,"paddingOuter":0},"axis":null},
  "y":{"datum":-1.473,"type":"quantitative","scale":{"domain":[0,1],"range":[709,578]},"axis":null},
  "text":{"field":"t"}}}
]
}
],
"resolve":{"scale":{"x":"independent","y":"independent","color":"independent"},"axis":{"x":"independent","y":"independent"}}
}
